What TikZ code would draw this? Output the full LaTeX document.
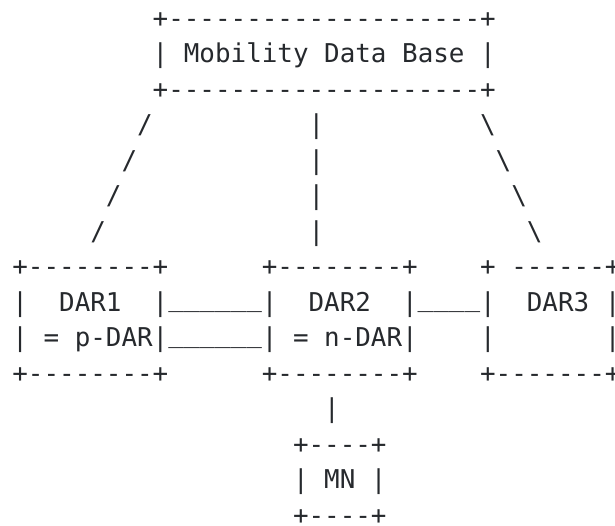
\documentclass[tikz,border=0pt]{standalone}
\usepackage{fontspec}
\setmonofont{DejaVu Sans Mono}
\definecolor{ink}{RGB}{38,41,45}

\begin{document}
\begin{tikzpicture}[
  x=15.59pt, y=-35.5pt,
  every node/.style={anchor=base west, inner sep=0pt, text=ink,
    font=\fontsize{25.9pt}{35.5pt}\selectfont\ttfamily},
  link/.style={yshift=4.5pt}
]
\clip (-12.2pt,27.3pt) rectangle ++(615pt,-525pt);
% Mobility Data Base
\node (mdbtop) at (9,0) {+--------------------+};
\node (mdb)    at (9,1) {|~Mobility Data Base~|};
\node (mdbbot) at (9,2) {+--------------------+};
% Branches down to the DARs
\foreach \r in {0,...,3} {
  \node (left\r)  at (8-\r,3+\r)  {/};
  \node (mid\r)   at (19,3+\r)    {|};
  \node (right\r) at (30+\r,3+\r) {\textbackslash};
}
% DAR1
\node (dar1top) at (0,7)  {+--------+};
\node (dar1)    at (0,8)  {|~~DAR1~~|};
\node (dar1p)   at (0,9)  {|~=~p-DAR|};
\node (dar1bot) at (0,10) {+--------+};
% DAR2
\node (dar2top) at (16,7)  {+--------+};
\node (dar2)    at (16,8)  {|~~DAR2~~|};
\node (dar2n)   at (16,9)  {|~=~n-DAR|};
\node (dar2bot) at (16,10) {+--------+};
% DAR3
\node (dar3top) at (30,7)  {+~------+};
\node (dar3)    at (30,8)  {|~~DAR3~|};
\node (dar3l)   at (30,9)  {|};
\node (dar3r)   at (38,9)  {|};
\node (dar3bot) at (30,10) {+-------+};
% Links between the DARs
\node[link] (link12a) at (10,8) {\_\_\_\_\_\_};
\node[link] (link12b) at (10,9) {\_\_\_\_\_\_};
\node[link] (link23)  at (26,8) {\_\_\_\_};
% MN
\node (mnlink) at (20,11) {|};
\node (mntop)  at (18,12) {+----+};
\node (mn)     at (18,13) {|~MN~|};
\node (mnbot)  at (18,14) {+----+};
\end{tikzpicture}
\end{document}
